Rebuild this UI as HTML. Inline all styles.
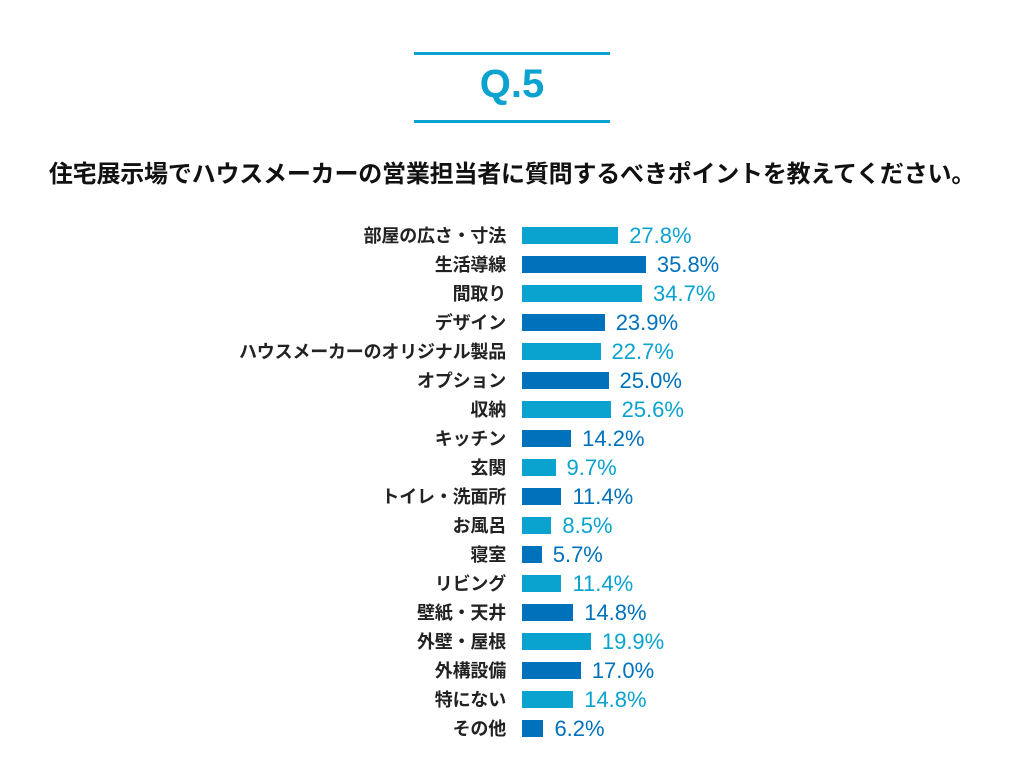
<!DOCTYPE html><html><head><meta charset="utf-8"><style>
body{margin:0;width:1024px;height:768px;background:#fff;position:relative;overflow:hidden;font-family:"Liberation Sans","Noto Sans CJK JP",sans-serif}
.ln{position:absolute;left:414px;width:196px;height:3px;background:#0aa3cf}
.q{position:absolute;left:414px;width:196px;top:62px;text-align:center;font-size:40px;font-weight:bold;color:#0aa3cf;line-height:44px}
.t{position:absolute;left:0;width:1024px;top:159px;text-align:center;font-size:24px;font-weight:bold;color:#111;line-height:32px;white-space:nowrap;letter-spacing:-0.2px}
.lb{position:absolute;right:518px;font-size:18px;font-weight:bold;color:#222;line-height:18px;white-space:nowrap;letter-spacing:-0.2px}
.b{position:absolute;left:522px;height:17px}
.v{position:absolute;font-size:22px;line-height:20px;white-space:nowrap}
</style></head><body>
<div class="ln" style="top:52px"></div><div class="ln" style="top:120px"></div>
<div class="q">Q.5</div>
<div class="t">住宅展示場でハウスメーカーの営業担当者に質問するべきポイントを教えてください。</div>
<div id="c"></div>
<script>
var d=[["部屋の広さ・寸法",27.8],["生活導線",35.8],["間取り",34.7],["デザイン",23.9],["ハウスメーカーのオリジナル製品",22.7],["オプション",25.0],["収納",25.6],["キッチン",14.2],["玄関",9.7],["トイレ・洗面所",11.4],["お風呂",8.5],["寝室",5.7],["リビング",11.4],["壁紙・天井",14.8],["外壁・屋根",19.9],["外構設備",17.0],["特にない",14.8],["その他",6.2]];
var h="";d.forEach(function(r,i){var y=227+i*29,w=r[1]*3.46,c=i%2?"#0071bb":"#0aa3cf";
h+='<div class="lb" style="top:'+(y)+'px">'+r[0]+'</div><div class="b" style="top:'+y+'px;width:'+w+'px;background:'+c+'"></div><div class="v" style="top:'+(y-1)+'px;left:'+(533+w)+'px;color:'+c+'">'+r[1].toFixed(1)+'%</div>';});
document.getElementById("c").innerHTML=h;
</script></body></html>
